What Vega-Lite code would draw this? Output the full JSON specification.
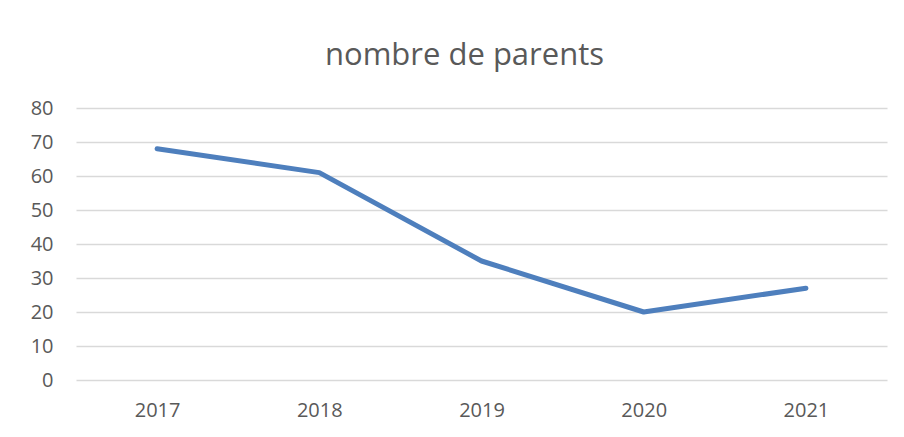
{
  "$schema": "https://vega.github.io/schema/vega-lite/v6.json",
  "autosize": "none",
  "width": 811,
  "height": 272,
  "padding": {"left": 76, "top": 108, "right": 17, "bottom": 57},
  "background": "white",
  "title": {
    "text": "nombre de parents",
    "font": "Open Sans",
    "fontSize": 31,
    "fontWeight": "normal",
    "color": "#595959",
    "anchor": "middle",
    "baseline": "alphabetic",
    "offset": 2,
    "dx": -17
  },
  "data": {
    "values": [
      {"annee": "2017", "parents": 68},
      {"annee": "2018", "parents": 61},
      {"annee": "2019", "parents": 35},
      {"annee": "2020", "parents": 20},
      {"annee": "2021", "parents": 27}
    ]
  },
  "mark": {"type": "line", "color": "#4E7FBD", "strokeWidth": 5, "strokeCap": "round", "strokeJoin": "round"},
  "encoding": {
    "x": {
      "field": "annee",
      "type": "ordinal",
      "scale": {"type": "point", "padding": 0.5},
      "axis": {
        "title": null,
        "labelAngle": 0,
        "labelFont": "Open Sans",
        "labelFontSize": 20,
        "labelColor": "#595959",
        "domain": false,
        "ticks": false,
        "labelPadding": 20,
        "grid": false
      }
    },
    "y": {
      "field": "parents",
      "type": "quantitative",
      "scale": {"domain": [0, 80]},
      "axis": {
        "title": null,
        "values": [0, 10, 20, 30, 40, 50, 60, 70, 80],
        "labelFont": "Open Sans",
        "labelFontSize": 20,
        "labelColor": "#595959",
        "domain": false,
        "ticks": false,
        "labelPadding": 23,
        "gridColor": "#D9D9D9",
        "gridWidth": 1.5
      }
    }
  },
  "config": {"view": {"stroke": null}}
}
